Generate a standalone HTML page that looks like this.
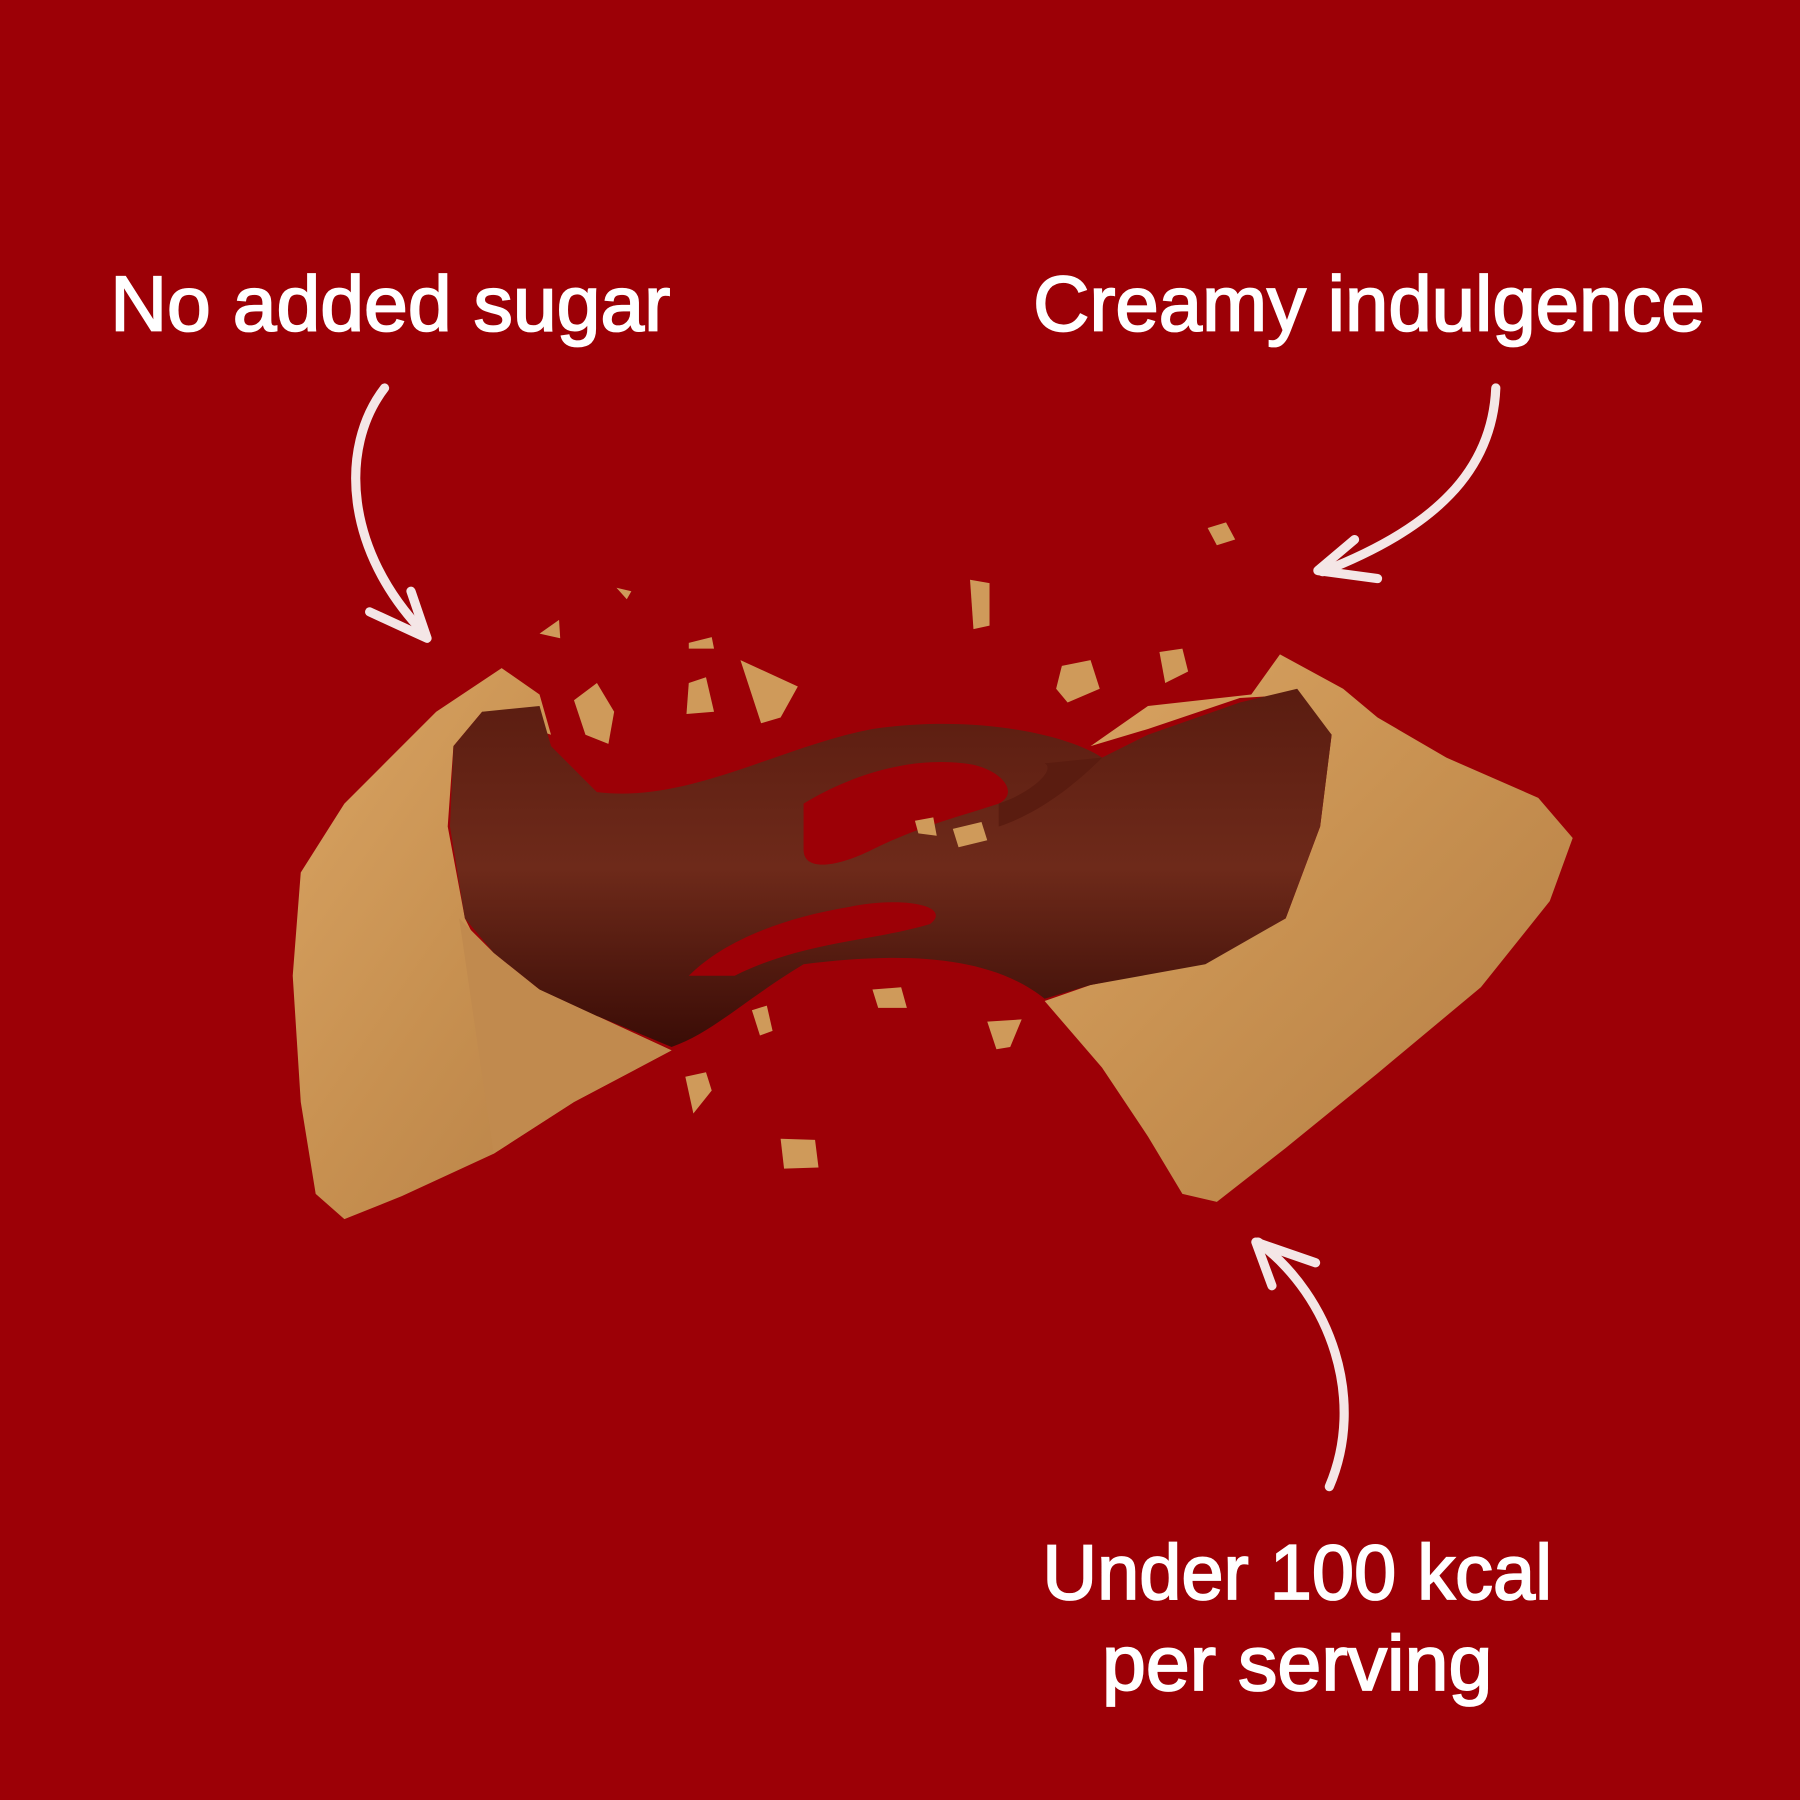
<!DOCTYPE html>
<html><head><meta charset="utf-8"><style>
html,body{margin:0;padding:0;background:#9c0006;}
svg{display:block}
</style></head><body>
<svg width="1800" height="1800" viewBox="0 0 1568 1568" xmlns="http://www.w3.org/2000/svg">
<defs>
<linearGradient id="ck" x1="0" y1="0" x2="1" y2="1"><stop offset="0" stop-color="#d9a463"/><stop offset="0.5" stop-color="#c79050"/><stop offset="1" stop-color="#b47d45"/></linearGradient>
<linearGradient id="ch" x1="0" y1="0" x2="0" y2="1"><stop offset="0" stop-color="#5a1c10"/><stop offset="0.5" stop-color="#6e2a1a"/><stop offset="1" stop-color="#3a0c06"/></linearGradient>
</defs>
<rect width="1568" height="1568" fill="#9c0006"/>
<g font-family="Liberation Sans, sans-serif" fill="#fff" stroke="#fff" stroke-width="1.6" font-size="68" lengthAdjust="spacingAndGlyphs">
<text x="96" y="288" textLength="488" lengthAdjust="spacingAndGlyphs">No added sugar</text>
<text x="900" y="288" textLength="585" lengthAdjust="spacingAndGlyphs">Creamy indulgence</text>
<text x="908" y="1393" textLength="444" lengthAdjust="spacingAndGlyphs">Under 100 kcal</text>
<text x="960" y="1472" textLength="340" lengthAdjust="spacingAndGlyphs">per serving</text>
</g>
<g fill="none" stroke="#f4e6e6" stroke-width="8" stroke-linecap="round" stroke-linejoin="round">
<path d="M335 338 C295 390 300 480 370 552"/>
<path d="M322 533 L372 556 L358 515"/>
<path d="M1303 338 C1300 410 1250 460 1152 498"/>
<path d="M1180 470 L1148 497 L1200 504"/>
<path d="M1158 1295 C1190 1220 1160 1130 1096 1082"/>
<path d="M1108 1120 L1094 1082 L1146 1100"/>
</g>
<!-- left cookie -->
<path d="M437 582 L470 605 L480 640 L420 620 L395 650 L390 720 L405 800 L420 830 L470 862 L520 885 L585 915 L500 960 L430 1005 L350 1042 L300 1062 L275 1040 L262 960 L255 850 L262 760 L300 700 L380 620 Z" fill="url(#ck)"/>
<path d="M400 800 L430 830 L470 862 L520 885 L585 915 L500 960 L430 1005 Z" fill="#c18a4e"/>
<!-- right cookie -->
<path d="M1115 570 L1170 600 L1200 625 L1260 660 L1340 695 L1370 730 L1350 785 L1290 860 L1200 935 L1120 1000 L1060 1047 L1030 1040 L1000 990 L960 930 L910 872 L950 858 L1050 838 L1120 800 L1150 720 L1160 640 L1130 605 L1080 608 L1000 635 L950 650 L1000 615 L1090 605 Z" fill="url(#ck)"/>
<!-- chocolate -->
<path d="M420 620 L470 615 L480 650 L520 690 C600 700 680 650 760 635 C850 622 930 640 960 660 L1000 640 L1080 612 L1130 600 L1160 640 L1150 720 L1120 800 L1050 840 L950 858 L910 870 C860 830 780 830 700 840 C650 870 620 900 585 912 L520 885 L470 862 L430 830 L405 800 L392 720 L395 650 Z" fill="url(#ch)"/>
<path d="M700 700 C750 670 800 660 840 665 C870 668 890 690 870 700 C840 710 800 720 760 740 C730 755 700 760 700 740 Z" fill="#9c0006"/>
<path d="M600 850 C630 820 680 800 740 790 C790 780 830 790 810 805 C760 820 700 820 640 850 Z" fill="#9c0006"/>
<path d="M870 700 C900 690 920 670 910 665 L960 660 C930 690 900 710 870 720 Z" fill="#5a1c10"/>
<!-- crumbs -->
<g fill="#cf9a5a">
<polygon points="500,610 520,595 535,620 530,648 510,640"/>
<polygon points="600,595 615,590 622,620 598,622"/>
<polygon points="645,575 695,598 680,625 663,630"/>
<polygon points="470,552 487,540 488,556"/>
<polygon points="537,512 550,515 546,522"/>
<polygon points="600,560 620,555 622,565 600,565"/>
<polygon points="845,505 862,508 862,545 848,548"/>
<polygon points="925,580 950,575 958,600 930,612 920,600"/>
<polygon points="1010,568 1030,565 1035,585 1015,595"/>
<polygon points="1052,460 1068,455 1076,470 1060,475"/>
<polygon points="797,715 813,712 816,728 800,726"/>
<polygon points="830,722 855,716 860,732 835,738"/>
<polygon points="760,862 785,860 790,878 765,878"/>
<polygon points="860,890 890,888 880,912 868,914"/>
<polygon points="655,880 668,876 673,898 662,902"/>
<polygon points="597,938 615,934 620,950 604,970"/>
<polygon points="680,992 710,993 713,1017 683,1018"/>
</g>
</svg>
</body></html>
